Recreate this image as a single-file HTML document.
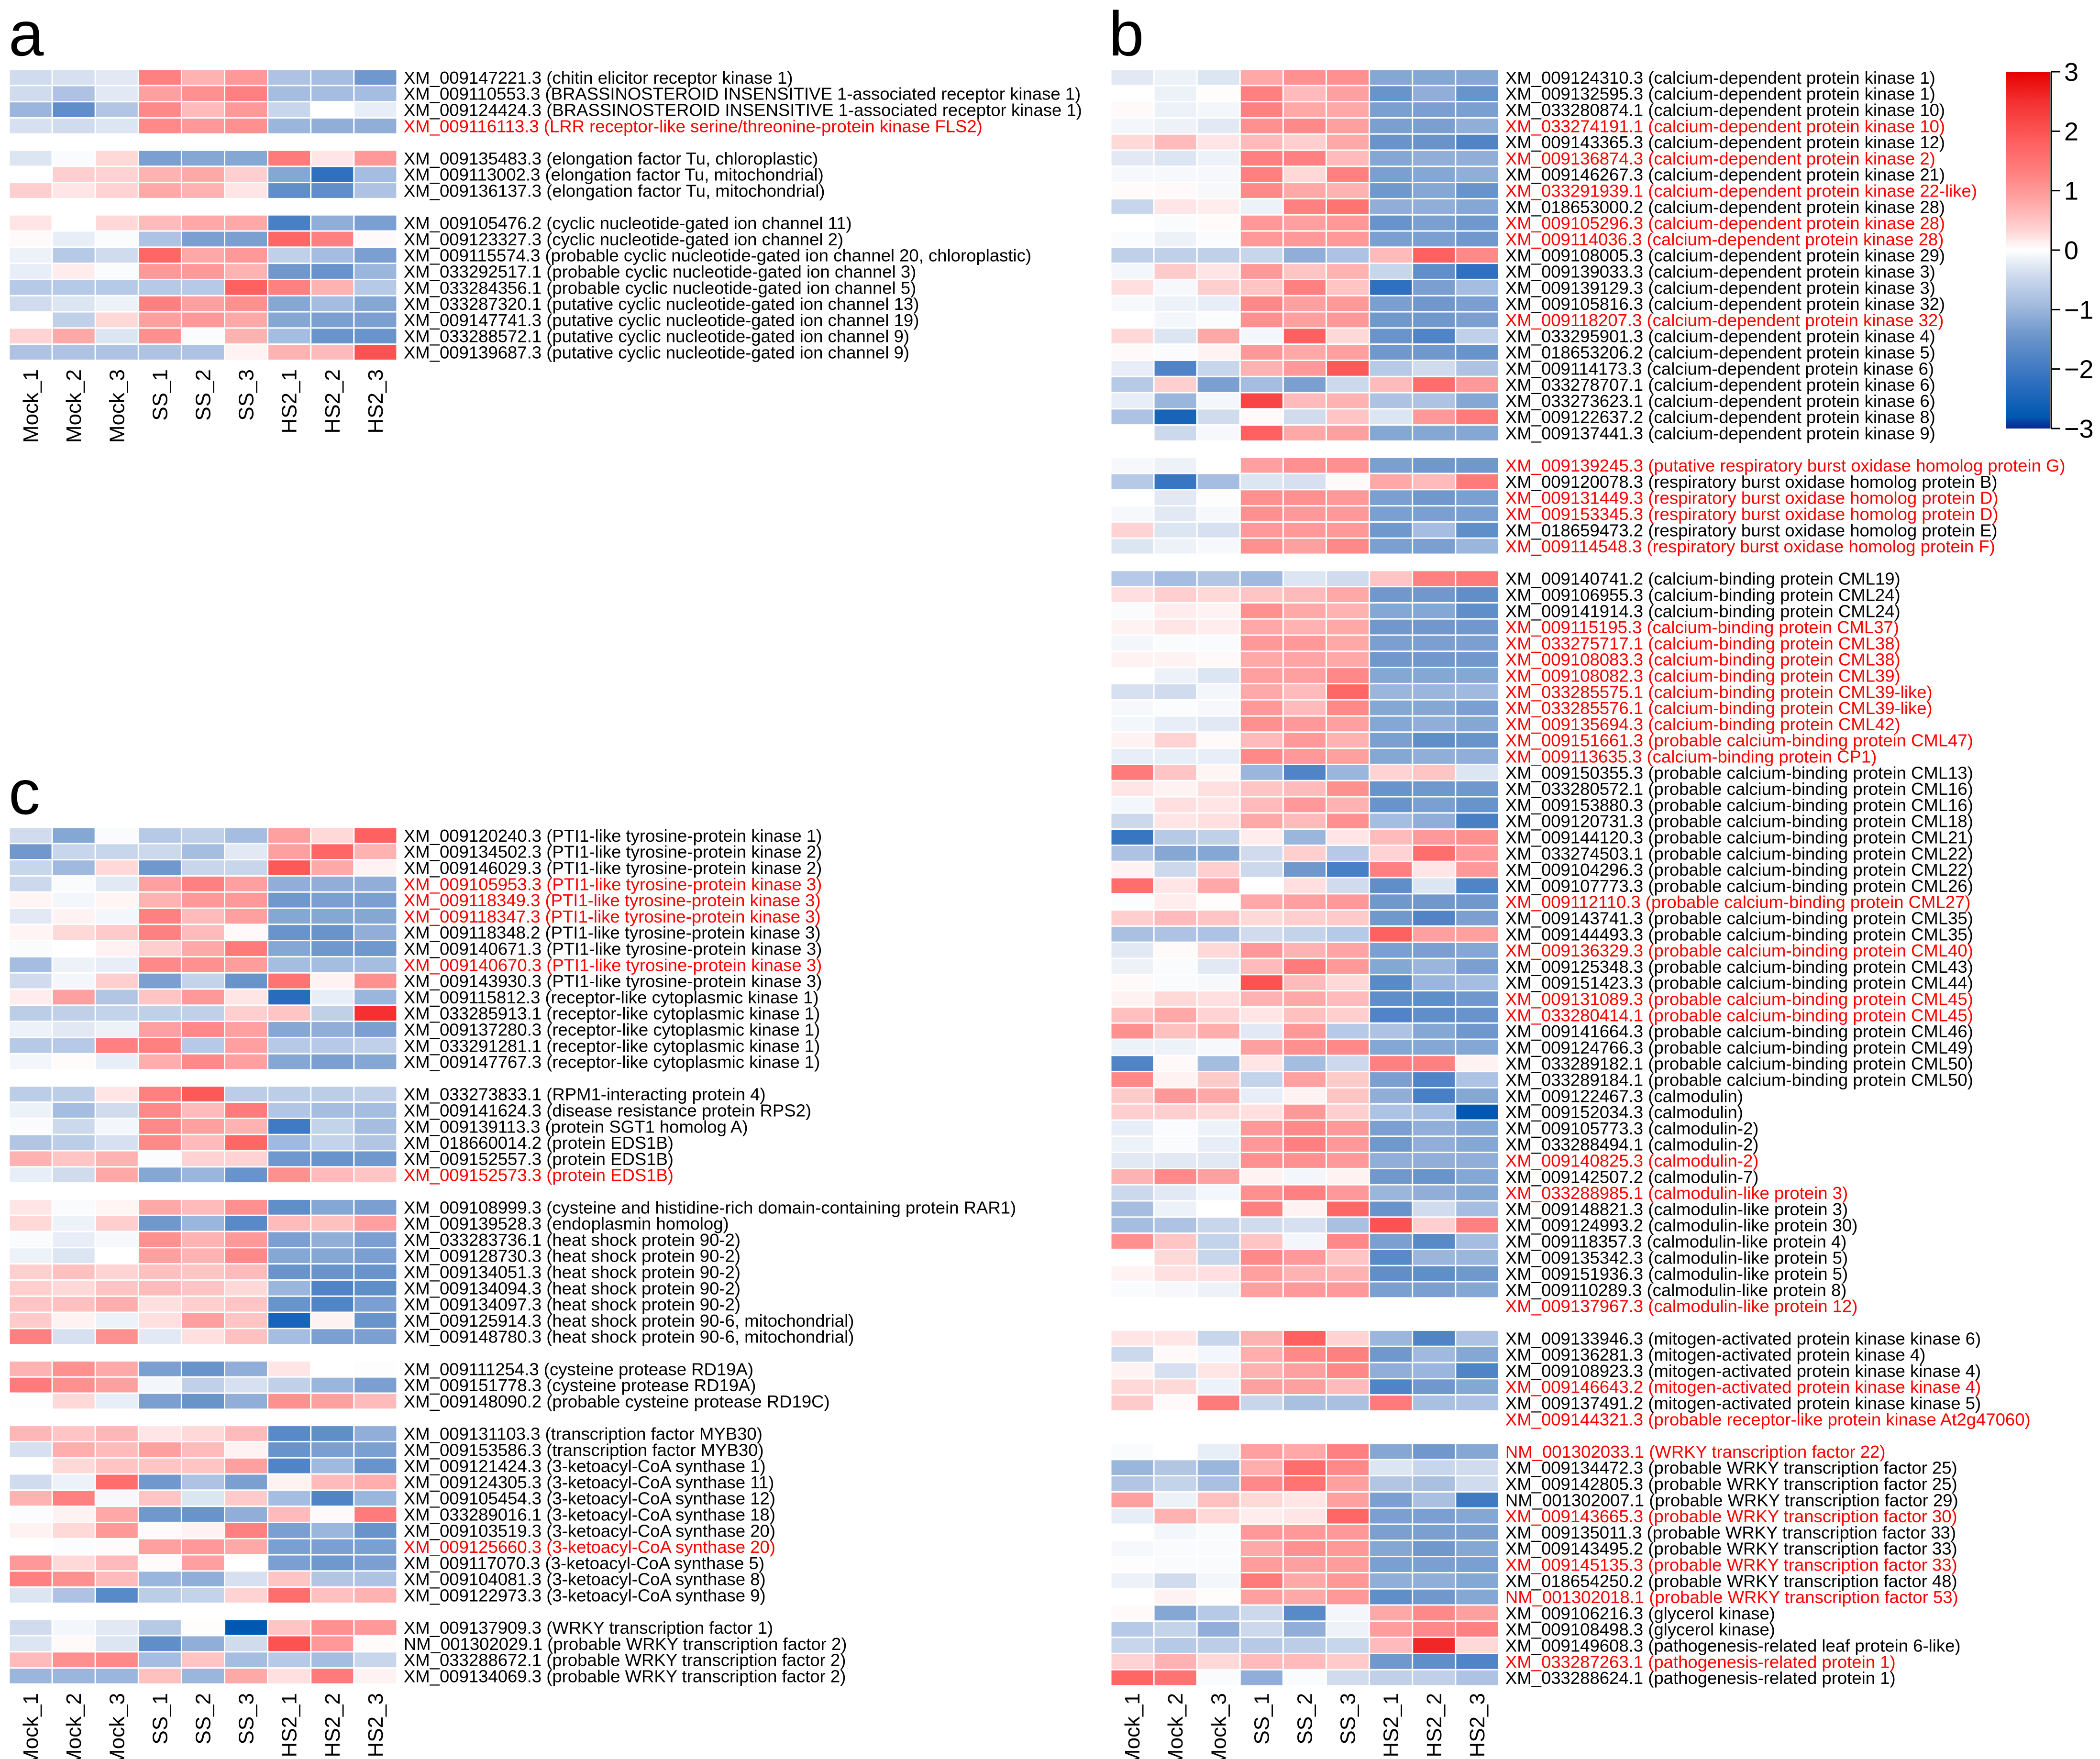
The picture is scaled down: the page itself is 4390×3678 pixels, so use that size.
<!DOCTYPE html>
<html><head><meta charset="utf-8"><title>Heatmaps a b c</title>
<style>
html,body{margin:0;padding:0;background:#fff;}
svg{display:block;}
text{font-family:"Liberation Sans",Arial,sans-serif;}
</style></head>
<body>
<svg id="fig" xmlns="http://www.w3.org/2000/svg" width="4390" height="3678" viewBox="0 0 4390 3678">
<rect x="0" y="0" width="4390" height="3678" fill="#fff"/>
<text x="18" y="116" font-size="132">a</text>
<text x="2318" y="116" font-size="132">b</text>
<text x="18" y="1702" font-size="132">c</text>
<g id="ga"></g>
<g id="gb"></g>
<g id="gc"></g>
<g id="cbar"></g>
</svg>
<script>
const columns = ["Mock_1","Mock_2","Mock_3","SS_1","SS_2","SS_3","HS2_1","HS2_2","HS2_3"];
const colorbarTicks = [3,2,1,0,-1,-2,-3];

// "" = gap row; leading "*" = red label
const aLabels = [
"XM_009147221.3 (chitin elicitor receptor kinase 1)",
"XM_009110553.3 (BRASSINOSTEROID INSENSITIVE 1-associated receptor kinase 1)",
"XM_009124424.3 (BRASSINOSTEROID INSENSITIVE 1-associated receptor kinase 1)",
"*XM_009116113.3 (LRR receptor-like serine/threonine-protein kinase FLS2)",
"",
"XM_009135483.3 (elongation factor Tu, chloroplastic)",
"XM_009113002.3 (elongation factor Tu, mitochondrial)",
"XM_009136137.3 (elongation factor Tu, mitochondrial)",
"",
"XM_009105476.2 (cyclic nucleotide-gated ion channel 11)",
"XM_009123327.3 (cyclic nucleotide-gated ion channel 2)",
"XM_009115574.3 (probable cyclic nucleotide-gated ion channel 20, chloroplastic)",
"XM_033292517.1 (probable cyclic nucleotide-gated ion channel 3)",
"XM_033284356.1 (probable cyclic nucleotide-gated ion channel 5)",
"XM_033287320.1 (putative cyclic nucleotide-gated ion channel 13)",
"XM_009147741.3 (putative cyclic nucleotide-gated ion channel 19)",
"XM_033288572.1 (putative cyclic nucleotide-gated ion channel 9)",
"XM_009139687.3 (putative cyclic nucleotide-gated ion channel 9)"];
const aValues = [
[-0.4,-0.35,-0.25,1.3,0.7,1.0,-0.8,-0.9,-1.4],
[-0.4,-0.8,-0.25,0.9,1.1,1.3,-0.9,-0.9,-0.9],
[-1.0,-1.6,-0.75,1.2,0.6,1.0,-0.5,0,-0.2],
[-0.35,-0.4,-0.3,1.2,1.0,1.1,-1.0,-1.1,-1.1],
null,
[-0.3,-0.05,0.3,-1.3,-1.2,-1.2,1.4,0.2,1.0],
[0,0.4,0.35,0.7,0.8,0.4,-1.2,-2.2,-0.9],
[0.4,0.2,0.35,0.8,0.7,0.2,-1.6,-1.6,-0.8],
null,
[0.2,0,0.3,0.6,0.8,0.8,-1.9,-1.1,-1.3],
[0.05,-0.2,-0.05,-0.8,-1.3,-1.3,1.7,1.3,0.05],
[-0.15,-0.7,-0.4,1.7,0.8,1.0,-0.6,-0.9,-1.3],
[-0.2,0.15,-0.05,1.0,1.0,0.7,-1.4,-1.5,-1.0],
[-0.7,-0.7,-0.7,-0.7,-0.7,1.8,1.3,0.7,-0.7],
[-0.4,-0.3,-0.15,1.3,0.9,1.1,-1.2,-0.9,-1.2],
[0,-0.6,0.3,0.9,1.0,0.8,-1.2,-1.3,-1.3],
[0.35,0.8,-0.3,1.1,-0.05,0.7,-0.9,-1.5,-1.5],
[-0.8,-0.8,-0.8,-0.8,-0.8,0.1,0.7,0.6,2.0]];

const bLabels = [
"XM_009124310.3 (calcium-dependent protein kinase 1)",
"XM_009132595.3 (calcium-dependent protein kinase 1)",
"XM_033280874.1 (calcium-dependent protein kinase 10)",
"*XM_033274191.1 (calcium-dependent protein kinase 10)",
"XM_009143365.3 (calcium-dependent protein kinase 12)",
"*XM_009136874.3 (calcium-dependent protein kinase 2)",
"XM_009146267.3 (calcium-dependent protein kinase 21)",
"*XM_033291939.1 (calcium-dependent protein kinase 22-like)",
"XM_018653000.2 (calcium-dependent protein kinase 28)",
"*XM_009105296.3 (calcium-dependent protein kinase 28)",
"*XM_009114036.3 (calcium-dependent protein kinase 28)",
"XM_009108005.3 (calcium-dependent protein kinase 29)",
"XM_009139033.3 (calcium-dependent protein kinase 3)",
"XM_009139129.3 (calcium-dependent protein kinase 3)",
"XM_009105816.3 (calcium-dependent protein kinase 32)",
"*XM_009118207.3 (calcium-dependent protein kinase 32)",
"XM_033295901.3 (calcium-dependent protein kinase 4)",
"XM_018653206.2 (calcium-dependent protein kinase 5)",
"XM_009114173.3 (calcium-dependent protein kinase 6)",
"XM_033278707.1 (calcium-dependent protein kinase 6)",
"XM_033273623.1 (calcium-dependent protein kinase 6)",
"XM_009122637.2 (calcium-dependent protein kinase 8)",
"XM_009137441.3 (calcium-dependent protein kinase 9)",
"",
"*XM_009139245.3 (putative respiratory burst oxidase homolog protein G)",
"XM_009120078.3 (respiratory burst oxidase homolog protein B)",
"*XM_009131449.3 (respiratory burst oxidase homolog protein D)",
"*XM_009153345.3 (respiratory burst oxidase homolog protein D)",
"XM_018659473.2 (respiratory burst oxidase homolog protein E)",
"*XM_009114548.3 (respiratory burst oxidase homolog protein F)",
"",
"XM_009140741.2 (calcium-binding protein CML19)",
"XM_009106955.3 (calcium-binding protein CML24)",
"XM_009141914.3 (calcium-binding protein CML24)",
"*XM_009115195.3 (calcium-binding protein CML37)",
"*XM_033275717.1 (calcium-binding protein CML38)",
"*XM_009108083.3 (calcium-binding protein CML38)",
"*XM_009108082.3 (calcium-binding protein CML39)",
"*XM_033285575.1 (calcium-binding protein CML39-like)",
"*XM_033285576.1 (calcium-binding protein CML39-like)",
"*XM_009135694.3 (calcium-binding protein CML42)",
"*XM_009151661.3 (probable calcium-binding protein CML47)",
"*XM_009113635.3 (calcium-binding protein CP1)",
"XM_009150355.3 (probable calcium-binding protein CML13)",
"XM_033280572.1 (probable calcium-binding protein CML16)",
"XM_009153880.3 (probable calcium-binding protein CML16)",
"XM_009120731.3 (probable calcium-binding protein CML18)",
"XM_009144120.3 (probable calcium-binding protein CML21)",
"XM_033274503.1 (probable calcium-binding protein CML22)",
"XM_009104296.3 (probable calcium-binding protein CML22)",
"XM_009107773.3 (probable calcium-binding protein CML26)",
"*XM_009112110.3 (probable calcium-binding protein CML27)",
"XM_009143741.3 (probable calcium-binding protein CML35)",
"XM_009144493.3 (probable calcium-binding protein CML35)",
"*XM_009136329.3 (probable calcium-binding protein CML40)",
"XM_009125348.3 (probable calcium-binding protein CML43)",
"XM_009151423.3 (probable calcium-binding protein CML44)",
"*XM_009131089.3 (probable calcium-binding protein CML45)",
"*XM_033280414.1 (probable calcium-binding protein CML45)",
"XM_009141664.3 (probable calcium-binding protein CML46)",
"XM_009124766.3 (probable calcium-binding protein CML49)",
"XM_033289182.1 (probable calcium-binding protein CML50)",
"XM_033289184.1 (probable calcium-binding protein CML50)",
"XM_009122467.3 (calmodulin)",
"XM_009152034.3 (calmodulin)",
"XM_009105773.3 (calmodulin-2)",
"XM_033288494.1 (calmodulin-2)",
"*XM_009140825.3 (calmodulin-2)",
"XM_009142507.2 (calmodulin-7)",
"*XM_033288985.1 (calmodulin-like protein 3)",
"XM_009148821.3 (calmodulin-like protein 3)",
"XM_009124993.2 (calmodulin-like protein 30)",
"XM_009118357.3 (calmodulin-like protein 4)",
"XM_009135342.3 (calmodulin-like protein 5)",
"XM_009151936.3 (calmodulin-like protein 5)",
"XM_009110289.3 (calmodulin-like protein 8)",
"*XM_009137967.3 (calmodulin-like protein 12)",
"",
"XM_009133946.3 (mitogen-activated protein kinase kinase 6)",
"XM_009136281.3 (mitogen-activated protein kinase 4)",
"XM_009108923.3 (mitogen-activated protein kinase kinase 4)",
"*XM_009146643.2 (mitogen-activated protein kinase kinase 4)",
"XM_009137491.2 (mitogen-activated protein kinase kinase 5)",
"*XM_009144321.3 (probable receptor-like protein kinase At2g47060)",
"",
"*NM_001302033.1 (WRKY transcription factor 22)",
"XM_009134472.3 (probable WRKY transcription factor 25)",
"XM_009142805.3 (probable WRKY transcription factor 25)",
"NM_001302007.1 (probable WRKY transcription factor 29)",
"*XM_009143665.3 (probable WRKY transcription factor 30)",
"XM_009135011.3 (probable WRKY transcription factor 33)",
"XM_009143495.2 (probable WRKY transcription factor 33)",
"*XM_009145135.3 (probable WRKY transcription factor 33)",
"XM_018654250.2 (probable WRKY transcription factor 48)",
"*NM_001302018.1 (probable WRKY transcription factor 53)",
"XM_009106216.3 (glycerol kinase)",
"XM_009108498.3 (glycerol kinase)",
"XM_009149608.3 (pathogenesis-related leaf protein 6-like)",
"*XM_033287263.1 (pathogenesis-related protein 1)",
"XM_033288624.1 (pathogenesis-related protein 1)"];
const bValues = [
[-0.25,-0.15,-0.3,0.8,1.1,1.1,-1.2,-1.2,-1.2],
[0,-0.15,0.02,1.3,0.6,0.9,-1.5,-1.1,-1.5],
[0.05,-0.15,-0.1,1.3,0.8,0.8,-1.3,-1.3,-1.3],
[-0.1,-0.15,-0.25,1.1,1.2,0.9,-1.3,-1.3,-1.1],
[0.3,0.6,0.2,0.6,0.4,0.8,-1.5,-1.5,-1.8],
[-0.25,-0.3,-0.15,1.3,1.3,0.6,-1.2,-1.1,-1.1],
[-0.08,-0.08,-0.08,1.3,0.3,1.3,-1.3,-1.2,-1.1],
[0.03,0.05,-0.08,1.2,0.8,0.7,-1.4,-1.2,-1.5],
[-0.5,0.2,0.15,-0.15,1.3,1.5,-1.1,-1.1,-1.2],
[0,-0.05,0.03,1.0,0.9,1.0,-1.5,-1.3,-1.4],
[-0.05,-0.15,-0.05,1.0,1.0,1.0,-1.3,-1.3,-1.4],
[-0.6,-0.6,-0.6,-0.5,-1.1,-0.8,0.6,1.8,1.2],
[-0.1,0.45,0.2,1.0,0.5,0.7,-0.5,-1.6,-2.2],
[0.25,-0.08,0.4,0.5,1.3,0.5,-2.2,-1.3,-0.9],
[-0.08,-0.15,-0.2,1.2,0.9,1.0,-1.3,-1.4,-1.3],
[0,-0.1,-0.05,1.1,0.9,1.0,-1.4,-1.4,-1.3],
[0.3,-0.3,0.8,-0.1,1.8,0.3,-1.5,-1.8,-0.6],
[0.05,-0.05,0.1,1.0,0.8,0.9,-1.4,-1.4,-1.5],
[-0.2,-1.8,-0.5,0.7,1.0,1.9,-0.7,-0.4,-0.8],
[-0.7,0.4,-1.3,-0.9,-1.3,-0.45,0.6,1.6,1.0],
[-0.2,-1.0,-0.1,2.2,0.6,0.7,-0.8,-0.8,-1.2],
[-0.8,-2.5,-0.4,0.05,-0.4,0.5,-0.3,1.0,1.4],
[0,-0.45,-0.08,1.8,0.8,0.9,-1.2,-1.2,-1.2],
null,
[-0.08,-0.15,0,0.9,1.1,1.1,-1.3,-1.4,-1.4],
[-0.7,-2.1,-0.9,-0.3,-0.35,0.05,0.8,0.6,1.4],
[0,-0.25,-0.02,1.1,1.1,1.0,-1.3,-1.4,-1.3],
[-0.08,-0.25,-0.08,1.1,1.0,1.0,-1.3,-1.3,-1.3],
[0.35,-0.3,-0.35,1.0,1.0,1.0,-1.4,-0.9,-1.6],
[-0.3,-0.15,-0.08,1.1,0.9,1.2,-1.3,-1.3,-1.0],
null,
[-0.7,-0.9,-0.75,-0.95,-0.3,-0.4,0.5,1.3,1.4],
[0.25,0.4,0.3,0.5,0.6,0.8,-1.4,-1.4,-1.6],
[-0.05,0.15,0.1,1.1,0.8,0.7,-1.2,-1.2,-1.6],
[0.1,0.2,0.15,0.8,0.7,0.8,-1.4,-1.4,-1.4],
[-0.1,-0.05,-0.05,1.0,1.0,0.8,-1.3,-1.3,-1.3],
[0.1,0.1,0.05,0.8,0.85,0.8,-1.4,-1.4,-1.4],
[0,-0.15,-0.3,0.9,0.9,1.2,-1.2,-1.2,-1.2],
[-0.35,-0.4,-0.1,0.8,0.6,1.7,-1.0,-1.0,-0.95],
[-0.08,-0.03,-0.08,1.0,0.6,1.2,-1.2,-1.2,-1.3],
[-0.1,-0.2,-0.25,1.1,1.0,0.9,-1.2,-1.1,-1.2],
[0.1,0.35,0.05,0.6,1.0,0.7,-1.3,-1.6,-1.5],
[-0.2,-0.2,-0.2,1.2,1.0,0.9,-1.2,-1.1,-1.1],
[1.4,0.5,0.08,-1.0,-1.8,-1.0,0.35,0.5,-0.3],
[0.2,0.1,0.25,0.5,0.6,1.1,-1.5,-1.4,-1.4],
[-0.1,0.25,0.2,0.6,1.0,0.7,-1.5,-1.3,-1.5],
[-0.45,0.2,0.25,0.8,0.6,1.1,-0.9,-1.1,-1.9],
[-2.1,-0.7,-0.6,0.15,-1.0,0.2,0.6,1.0,1.1],
[-0.8,-1.2,-1.2,-0.4,0.4,-0.7,0.35,1.6,1.0],
[0.1,-0.45,0.4,-0.45,-1.4,-1.9,1.3,0.2,1.0],
[1.6,0.2,0.8,0,0.25,-0.4,-1.6,-0.3,-1.8],
[-0.03,0.15,0.02,0.8,0.9,1.0,-1.4,-1.4,-1.4],
[0.4,0.6,0.5,0.3,0.4,0.45,-1.4,-1.8,-1.3],
[-0.85,-0.8,-0.8,-0.4,-0.55,-0.7,1.8,0.9,0.9],
[-0.25,0.05,0.3,1.0,0.7,0.85,-1.3,-1.3,-1.2],
[-0.15,-0.05,-0.25,0.6,1.4,1.0,-1.2,-1.0,-1.3],
[0.05,-0.05,-0.08,2.0,0.6,0.3,-1.7,-1.0,-0.9],
[0.1,0.3,0.25,0.7,0.8,0.6,-1.6,-1.6,-1.4],
[0.55,0.8,0.35,0.2,0.55,0.4,-1.8,-1.6,-1.5],
[1.1,0.55,0.75,-0.25,1.0,-0.7,-0.8,-1.2,-1.4],
[-0.15,-0.15,-0.08,0.9,1.1,1.2,-1.2,-1.2,-1.2],
[-1.8,0.05,-0.9,0.2,-0.9,-0.45,1.3,1.3,0.1],
[1.2,0.1,0.45,-0.55,0.9,0.45,-1.3,-1.8,-0.8],
[0.45,1.0,0.8,-0.2,0.1,0.5,-1.1,-1.9,-1.2],
[0.4,0.4,0.3,0.25,1.0,0.4,-0.8,-0.9,-2.8],
[-0.2,-0.05,-0.15,1.0,1.2,1.0,-1.3,-1.1,-1.2],
[-0.15,-0.05,-0.2,1.0,1.3,1.0,-1.4,-1.1,-1.2],
[-0.25,-0.25,-0.25,1.1,1.1,1.0,-1.1,-1.1,-1.1],
[0.7,1.2,0.9,0.1,-0.1,0.1,-1.4,-1.5,-1.2],
[-0.45,-0.25,-0.1,1.1,1.3,1.0,-1.0,-1.1,-1.2],
[-0.9,-0.15,0,1.3,0.1,1.7,-1.5,-0.4,-0.9],
[-0.9,-0.8,-0.5,-0.4,-0.35,-0.85,2.0,0.4,1.3],
[1.1,0.5,-0.55,0.5,-0.1,1.2,-1.3,-1.7,-0.9],
[0,0.3,-0.5,1.2,1.0,0.5,-1.7,-1.0,-1.0],
[0.1,0.25,0.25,0.9,0.7,0.7,-1.6,-1.6,-1.4],
[-0.05,-0.08,-0.15,0.9,1.0,1.0,-1.3,-1.3,-1.2],
"NA",
null,
[0.2,0.2,-0.5,0.7,1.8,0.35,-1.0,-1.8,-0.8],
[-0.45,0.05,-0.1,0.75,1.2,1.3,-1.4,-0.95,-1.2],
[0.1,-0.35,0.2,0.7,0.9,1.2,-1.1,-1.0,-1.8],
[0.3,0.3,-0.15,0.9,0.9,0.6,-1.8,-1.4,-1.2],
[0.45,0.05,1.4,-0.5,-0.85,-0.85,1.4,-0.85,-0.8],
"NA",
null,
[-0.05,0,-0.2,0.9,0.8,1.3,-1.2,-1.4,-1.2],
[-1.0,-0.75,-1.0,0.75,1.6,1.2,-0.3,-0.5,-0.4],
[-0.75,-0.55,-0.85,1.2,1.5,0.9,-0.75,-0.85,-0.4],
[0.9,-0.15,0.55,0.3,0.2,0.9,-1.3,-0.85,-2.0],
[-0.2,0.7,0.3,0.15,0.2,1.7,-1.3,-1.3,-1.2],
[0,-0.1,-0.05,1.0,1.0,1.0,-1.3,-1.3,-1.3],
[-0.08,-0.05,-0.05,0.8,1.1,1.0,-1.2,-1.4,-1.2],
[-0.02,-0.05,-0.05,0.95,0.9,0.95,-1.3,-1.3,-1.3],
[-0.15,-0.4,-0.1,1.4,0.8,1.0,-1.1,-1.1,-1.2],
[0,0.1,0.02,0.9,0.8,1.0,-1.6,-1.4,-1.2],
[0.05,-1.2,-0.7,-0.45,-1.7,-0.1,0.8,1.2,0.9],
[-0.7,-0.55,-1.1,-0.45,-1.1,-0.15,0.95,1.2,1.3],
[-0.5,-0.7,-0.65,-0.7,-0.65,-0.5,0.6,2.6,0.3],
[0.35,0.7,0.3,0.6,0.6,0.45,-1.4,-1.6,-1.8],
[1.7,1.5,-0.05,-1.1,-0.05,-0.4,-0.6,-0.6,-0.8]];

const cLabels = [
"XM_009120240.3 (PTI1-like tyrosine-protein kinase 1)",
"XM_009134502.3 (PTI1-like tyrosine-protein kinase 2)",
"XM_009146029.3 (PTI1-like tyrosine-protein kinase 2)",
"*XM_009105953.3 (PTI1-like tyrosine-protein kinase 3)",
"*XM_009118349.3 (PTI1-like tyrosine-protein kinase 3)",
"*XM_009118347.3 (PTI1-like tyrosine-protein kinase 3)",
"XM_009118348.2 (PTI1-like tyrosine-protein kinase 3)",
"XM_009140671.3 (PTI1-like tyrosine-protein kinase 3)",
"*XM_009140670.3 (PTI1-like tyrosine-protein kinase 3)",
"XM_009143930.3 (PTI1-like tyrosine-protein kinase 3)",
"XM_009115812.3 (receptor-like cytoplasmic kinase 1)",
"XM_033285913.1 (receptor-like cytoplasmic kinase 1)",
"XM_009137280.3 (receptor-like cytoplasmic kinase 1)",
"XM_033291281.1 (receptor-like cytoplasmic kinase 1)",
"XM_009147767.3 (receptor-like cytoplasmic kinase 1)",
"",
"XM_033273833.1 (RPM1-interacting protein 4)",
"XM_009141624.3 (disease resistance protein RPS2)",
"XM_009139113.3 (protein SGT1 homolog A)",
"XM_018660014.2 (protein EDS1B)",
"XM_009152557.3 (protein EDS1B)",
"*XM_009152573.3 (protein EDS1B)",
"",
"XM_009108999.3 (cysteine and histidine-rich domain-containing protein RAR1)",
"XM_009139528.3 (endoplasmin homolog)",
"XM_033283736.1 (heat shock protein 90-2)",
"XM_009128730.3 (heat shock protein 90-2)",
"XM_009134051.3 (heat shock protein 90-2)",
"XM_009134094.3 (heat shock protein 90-2)",
"XM_009134097.3 (heat shock protein 90-2)",
"XM_009125914.3 (heat shock protein 90-6, mitochondrial)",
"XM_009148780.3 (heat shock protein 90-6, mitochondrial)",
"",
"XM_009111254.3 (cysteine protease RD19A)",
"XM_009151778.3 (cysteine protease RD19A)",
"XM_009148090.2 (probable cysteine protease RD19C)",
"",
"XM_009131103.3 (transcription factor MYB30)",
"XM_009153586.3 (transcription factor MYB30)",
"XM_009121424.3 (3-ketoacyl-CoA synthase 1)",
"XM_009124305.3 (3-ketoacyl-CoA synthase 11)",
"XM_009105454.3 (3-ketoacyl-CoA synthase 12)",
"XM_033289016.1 (3-ketoacyl-CoA synthase 18)",
"XM_009103519.3 (3-ketoacyl-CoA synthase 20)",
"*XM_009125660.3 (3-ketoacyl-CoA synthase 20)",
"XM_009117070.3 (3-ketoacyl-CoA synthase 5)",
"XM_009104081.3 (3-ketoacyl-CoA synthase 8)",
"XM_009122973.3 (3-ketoacyl-CoA synthase 9)",
"",
"XM_009137909.3 (WRKY transcription factor 1)",
"NM_001302029.1 (probable WRKY transcription factor 2)",
"XM_033288672.1 (probable WRKY transcription factor 2)",
"XM_009134069.3 (probable WRKY transcription factor 2)"];
const cValues = [
[-0.4,-1.2,-0.05,-0.7,-0.6,-0.9,0.9,0.3,1.8],
[-1.4,-0.5,-0.5,-0.45,-0.9,-0.25,0.9,1.7,0.7],
[-0.5,-0.95,0.3,-1.4,-0.5,-0.5,1.9,0.8,0.1],
[-0.45,-0.05,-0.25,0.9,1.3,0.9,-1.1,-1.1,-1.1],
[0.08,-0.1,0.08,0.7,1.0,1.0,-1.4,-1.3,-1.3],
[-0.25,0.1,-0.1,1.3,0.6,0.9,-1.2,-1.2,-1.2],
[0.08,0.3,0.45,1.3,0.6,0.05,-1.5,-1.5,-1.1],
[-0.05,0,0.1,0.4,0.8,1.4,-1.2,-1.4,-1.4],
[-0.9,-0.15,-0.2,1.2,1.1,0.95,-0.9,-0.9,-0.9],
[-0.4,-0.1,0.4,-1.3,-0.55,-1.5,1.5,0.1,1.1],
[0.15,0.9,-0.75,0.5,1.0,0.2,-2.3,-0.2,-1.0],
[-0.65,-0.6,-0.55,-0.6,-0.6,0.4,0.5,-0.6,2.5],
[-0.15,-0.25,-0.15,0.9,1.2,0.9,-1.2,-1.1,-1.3],
[-0.7,-0.7,1.3,1.3,-0.7,0.9,-0.7,-0.7,-0.6],
[-0.1,0.03,-0.2,0.75,1.2,0.9,-1.2,-1.3,-1.2],
null,
[-0.65,-0.65,0.2,1.3,1.9,-0.65,-0.65,-0.65,-0.6],
[-0.15,-0.9,-0.4,1.2,0.6,1.4,-0.75,-0.9,-0.9],
[-0.05,-0.45,-0.1,1.2,0.9,0.7,-2.0,-0.55,-0.9],
[-0.75,-0.65,-0.35,1.2,0.6,1.7,-0.95,-0.55,-0.75],
[0.7,0.5,0.7,-0.03,0.35,0.35,-1.4,-1.5,-1.4],
[-0.2,-0.4,0.8,-1.2,-1.0,-1.5,1.1,0.6,0.5],
null,
[0.2,-0.05,0.08,0.8,0.6,1.1,-1.6,-1.2,-1.3],
[0.3,-0.15,0.4,-1.4,-1.0,-1.7,0.6,0.55,0.9],
[-0.05,-0.2,-0.08,1.1,0.7,1.0,-1.3,-1.1,-1.3],
[-0.15,-0.3,0,0.9,0.7,1.2,-1.2,-1.2,-1.3],
[0.4,0.55,0.35,0.55,0.5,0.6,-1.5,-1.5,-1.5],
[0.4,0.3,0.5,0.6,0.5,0.3,-1.0,-1.8,-1.6],
[0.5,0.55,0.75,0.25,0.4,0.5,-1.5,-1.8,-1.3],
[0.45,0.1,-0.15,0.25,0.9,0.5,-2.5,0.1,-1.5],
[1.3,-0.35,1.1,-0.25,0.25,0.55,-0.9,-1.3,-1.3],
null,
[0.7,1.1,0.8,-1.3,-1.5,-1.1,0.2,0,-0.02],
[1.4,1.1,0.9,-0.1,-0.6,-0.35,-0.6,-1.0,-1.3],
[-0.02,0.3,-0.2,-1.3,-1.5,-1.1,1.1,0.9,0.6],
null,
[0.65,0.5,0.65,0.2,0.3,0.6,-1.7,-1.6,-1.1],
[-0.35,0.75,0.6,0.9,0.6,0.1,-1.5,-1.3,-1.3],
[0,0.3,0.5,0.5,0.5,0.9,-1.8,-0.95,-1.5],
[-0.4,-0.15,1.6,-1.4,-0.8,-1.3,0.1,0.6,0.75],
[0.7,1.3,-0.08,0.5,-0.3,0.45,-0.9,-1.8,-1.0],
[-0.03,0.1,0.8,-1.4,-1.5,-1.1,0.6,0.05,1.4],
[0.1,0.3,1.0,0.03,0.1,1.3,-1.3,-1.0,-1.5],
[0,-0.03,0.03,0.9,1.0,0.8,-1.3,-1.3,-1.3],
[1.0,0.3,0.6,0.03,0.9,0,-1.3,-1.4,-1.3],
[1.3,1.1,0.6,-1.0,-1.1,-0.35,0.5,-0.75,-0.8],
[-0.3,-0.8,-1.7,-0.65,-0.55,0.35,1.6,0.55,0.7],
null,
[-0.4,-0.1,-0.25,-0.7,0.02,-2.8,0.5,1.1,1.0],
[-0.3,0.05,-0.3,-1.6,-1.1,-0.4,2.0,1.0,0.03],
[0.6,1.1,1.2,-0.9,0.5,-0.9,-0.7,-0.9,-0.5],
[-1.0,-1.0,-1.0,0.55,-1.0,0.8,0.25,1.4,0.1]];

// colour scale stops (value -> rgb)
const stopVals = [-3,-2.8,-2.2,-1.4,-0.9,-0.4,0,0.3,0.8,1.3,1.8,2.5,3];
const stopCols = [[10,40,145],[0,88,176],[48,112,192],[112,152,204],[165,189,224],[208,220,238],[255,255,255],[255,216,216],[255,168,168],[255,128,128],[255,96,96],[244,48,48],[230,0,0]];

const NS = "http://www.w3.org/2000/svg";
const COLW = 90.1, ROWH = 33.8, GAP = 3;

function color(v){
  v = Math.max(-3, Math.min(3, v));
  for (let i = 0; i < stopVals.length - 1; i++) {
    if (v <= stopVals[i+1]) {
      const t = (v - stopVals[i]) / (stopVals[i+1] - stopVals[i]);
      const a = stopCols[i], b = stopCols[i+1];
      return "rgb(" + [0,1,2].map(k => Math.round(a[k] + (b[k]-a[k])*t)).join(",") + ")";
    }
  }
  return "rgb(230,0,0)";
}
function xPos(x0, j){ return x0 + j*COLW; }
function yPos(y0, i){ return y0 + i*ROWH; }

function drawPanel(gid, key, labels, values, x0, y0, colLabelY){
  const g = document.getElementById(gid);
  labels.forEach((lab, i) => {
    const vals = values[i];
    if (vals === null) return;
    const y = yPos(y0, i);
    if (Array.isArray(vals)) {
      vals.forEach((v, j) => {
        const r = document.createElementNS(NS, "rect");
        r.setAttribute("x", xPos(x0, j) + GAP/2);
        r.setAttribute("y", y + GAP/2);
        r.setAttribute("width", COLW - GAP);
        r.setAttribute("height", ROWH - GAP);
        r.setAttribute("fill", color(v));
        
        
        g.appendChild(r);
      });
    }
    const red = lab.charAt(0) === "*";
    const t = document.createElementNS(NS, "text");
    t.setAttribute("x", xPos(x0, 9) + 14);
    t.setAttribute("y", y + ROWH/2 + 13);
    t.setAttribute("font-size", "36.5");
    t.setAttribute("fill", red ? "#ff0000" : "#000");
    t.textContent = red ? lab.slice(1) : lab;
    
    
    g.appendChild(t);
  });
  columns.forEach((c, j) => {
    const cx = xPos(x0, j) + COLW/2 + 15;
    const t = document.createElementNS(NS, "text");
    t.setAttribute("x", cx);
    t.setAttribute("y", colLabelY);
    t.setAttribute("font-size", "44");
    t.setAttribute("text-anchor", "end");
    t.setAttribute("transform", "rotate(-90 " + cx + " " + colLabelY + ")");
    t.textContent = c;
    
    
    g.appendChild(t);
  });
}

drawPanel("ga", "a", aLabels, aValues, 19, 145, 772);
drawPanel("gb", "b", bLabels, bValues, 2322, 145, 3540);
drawPanel("gc", "c", cLabels, cValues, 19, 1730, 3540);

// colorbar
(function(){
  const g = document.getElementById("cbar");
  const bx = 4193, bw = 92, by = 150, bh = 746;
  const defs = document.createElementNS(NS, "defs");
  const lg = document.createElementNS(NS, "linearGradient");
  lg.setAttribute("id", "cbgrad");
  lg.setAttribute("x1", "0"); lg.setAttribute("y1", "1");
  lg.setAttribute("x2", "0"); lg.setAttribute("y2", "0");
  stopVals.forEach((v, i) => {
    const s = document.createElementNS(NS, "stop");
    s.setAttribute("offset", ((v + 3) / 6).toFixed(4));
    s.setAttribute("stop-color", "rgb(" + stopCols[i].join(",") + ")");
    lg.appendChild(s);
  });
  defs.appendChild(lg);
  g.appendChild(defs);
  const r = document.createElementNS(NS, "rect");
  r.setAttribute("x", bx); r.setAttribute("y", by);
  r.setAttribute("width", bw); r.setAttribute("height", bh);
  r.setAttribute("fill", "url(#cbgrad)");
  
  
  g.appendChild(r);
  const ax = document.createElementNS(NS, "line");
  ax.setAttribute("x1", bx + bw + 3); ax.setAttribute("x2", bx + bw + 3);
  ax.setAttribute("y1", by); ax.setAttribute("y2", by + bh);
  ax.setAttribute("stroke", "#000"); ax.setAttribute("stroke-width", "3");
  
  
  g.appendChild(ax);
  colorbarTicks.forEach(v => {
    const y = by + (3 - v) / 6 * bh;
    const tk = document.createElementNS(NS, "line");
    tk.setAttribute("x1", bx + bw + 3); tk.setAttribute("x2", bx + bw + 22);
    tk.setAttribute("y1", y); tk.setAttribute("y2", y);
    tk.setAttribute("stroke", "#000"); tk.setAttribute("stroke-width", "3");
    
    
    g.appendChild(tk);
    const t = document.createElementNS(NS, "text");
    t.setAttribute("x", bx + bw + 30);
    t.setAttribute("y", y + 19);
    t.setAttribute("font-size", "54");
    t.textContent = v < 0 ? "\u2212" + Math.abs(v) : String(v);
    
    
    g.appendChild(t);
  });
})();
</script>
</body></html>
